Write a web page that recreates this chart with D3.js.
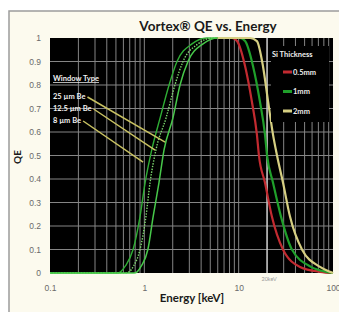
<!DOCTYPE html>
<html>
<head>
<meta charset="utf-8">
<script src="https://cdn.jsdelivr.net/npm/d3@7"></script>
<style>
  body { margin: 0; background: #ffffff; }
  svg { display: block; font-family: Lato, "Open Sans", sans-serif; }
</style>
</head>
<body>
<div id="chart"></div>
<script>
// tick values
const energyTicks = [0.1, 1, 10, 100];
const energyTickLabels = ['0.1', '1', '10', '100'];
const qeTicks = [0, 0.1, 0.2, 0.3, 0.4, 0.5, 0.6, 0.7, 0.8, 0.9, 1];
const qeTickLabels = ['0', '0.1', '0.2', '0.3', '0.4', '0.5', '0.6', '0.7', '0.8', '0.9', '1'];

// low energy side: window types [keV, QE]
const windowNames = ['25 µm Be', '12.5 µm Be', '8 µm Be'];
const window25 = [[0.1, 0], [0.78, 0], [0.84, 0.005], [0.93, 0.03], [1.09, 0.1], [1.24, 0.24], [1.43, 0.385], [1.62, 0.525], [2.01, 0.66], [2.39, 0.8], [2.9, 0.9], [4.19, 0.975], [6, 1], [9, 1]];
const window12 = [[0.1, 0], [0.64, 0], [0.69, 0.005], [0.77, 0.03], [0.9, 0.1], [1.04, 0.24], [1.15, 0.385], [1.33, 0.525], [1.7, 0.66], [2.11, 0.8], [2.57, 0.9], [3.71, 0.975], [5.2, 1], [9, 1]];
const window8 = [[0.1, 0], [0.52, 0], [0.56, 0.005], [0.63, 0.03], [0.76, 0.1], [0.9, 0.24], [1.02, 0.385], [1.2, 0.525], [1.47, 0.66], [1.83, 0.8], [2.22, 0.9], [3.2, 0.975], [4.6, 1], [9, 1]];
// where the window labels point on their curves [keV, QE]
const windowAnchors = [[1.66, 0.557], [1.3, 0.523], [0.97, 0.472]];

// high energy side: Si thickness [keV, QE]
const thicknessNames = ['0.5mm', '1mm', '2mm'];
const si05 = [[6, 1], [8.5, 1], [9.6, 0.987], [11.7, 0.88], [13.8, 0.73], [15.6, 0.59], [16.4, 0.5], [19.0, 0.385], [22.5, 0.24], [29.5, 0.1], [44.7, 0.026], [72.8, 0.005], [100, 0]];
const si1 = [[6, 1], [10.3, 1], [11.7, 0.987], [14.2, 0.88], [16.8, 0.73], [19.0, 0.59], [20.0, 0.5], [23.1, 0.385], [28.1, 0.24], [36.7, 0.1], [58.4, 0.026], [85, 0.005], [100, 0]];
const si2 = [[6, 1], [13.2, 1], [15.6, 0.987], [18.1, 0.88], [20.5, 0.73], [23.1, 0.59], [25.5, 0.5], [29.5, 0.385], [35, 0.24], [46.9, 0.1], [72.8, 0.026], [92.9, 0.005], [100, 0]];
const markerEnergy = 20;

const width = 339, height = 312;
const plot = { left: 50, right: 333, top: 38, bottom: 273 };

const svg = d3.select('#chart').append('svg')
    .attr('width', width)
    .attr('height', height);

// outer frame
svg.append('rect')
    .attr('x', 9).attr('y', 11)
    .attr('width', 340).attr('height', 310)
    .attr('fill', '#fcfaee')
    .attr('stroke', '#9c9c9c')
    .attr('stroke-width', 1.5);

const x = d3.scaleLog().domain([0.1, 100]).range([plot.left, plot.right]);
const y = d3.scaleLinear().domain([0, 1]).range([plot.bottom, plot.top]);

svg.append('rect')
    .attr('x', plot.left).attr('y', plot.top)
    .attr('width', plot.right - plot.left)
    .attr('height', plot.bottom - plot.top)
    .attr('fill', '#000000');

// grid
const minorTicks = x.ticks().filter(d => d > 0.1 && d < 100);
const grid = svg.append('g');
grid.selectAll('line.v').data(minorTicks).enter().append('line')
    .attr('class', 'v')
    .attr('x1', d => x(d)).attr('x2', d => x(d))
    .attr('y1', plot.top).attr('y2', plot.bottom)
    .attr('stroke', '#858585')
    .attr('stroke-width', 1);
grid.selectAll('line.h').data(qeTicks.filter(d => d > 0 && d < 1)).enter().append('line')
    .attr('class', 'h')
    .attr('x1', plot.left).attr('x2', plot.right)
    .attr('y1', d => y(d)).attr('y2', d => y(d))
    .attr('stroke', '#858585')
    .attr('stroke-width', 1);
grid.append('line')
    .attr('x1', x(markerEnergy)).attr('x2', x(markerEnergy))
    .attr('y1', plot.top).attr('y2', plot.bottom)
    .attr('stroke', '#dcdcdc')
    .attr('stroke-width', 1.2);

// axes labels
const xAxis = d3.axisBottom(x).tickValues(energyTicks)
    .tickFormat((d, i) => energyTickLabels[i]).tickSize(0).tickPadding(12);
const xg = svg.append('g').attr('transform', `translate(0,${plot.bottom})`).call(xAxis);
const yAxis = d3.axisLeft(y).tickValues(qeTicks)
    .tickFormat((d, i) => qeTickLabels[i]).tickSize(0).tickPadding(9);
const yg = svg.append('g').attr('transform', `translate(${plot.left},0)`).call(yAxis);
[xg, yg].forEach(g => {
    g.select('.domain').remove();
    g.selectAll('text').attr('fill', '#6a6a6a').style('font-size', '8.5px');
});

svg.append('text')
    .attr('x', x(markerEnergy) + 2).attr('y', plot.bottom + 8)
    .attr('text-anchor', 'middle')
    .attr('fill', '#9a9a9a')
    .style('font-size', '5.5px')
    .text('20keV');

const line = d3.line()
    .x(d => x(d[0]))
    .y(d => y(d[1]))
    .curve(d3.curveMonotoneX);

// rising curves
const windows = [
    { data: window8, color: '#2fae35', dash: null, w: 1.4 },
    { data: window12, color: '#7fdc70', dash: '1.4,1.4', w: 1.4 },
    { data: window25, color: '#47c84a', dash: null, w: 1.5 }
];
windows.forEach(s => {
    svg.append('path')
        .datum(s.data)
        .attr('d', line)
        .attr('fill', 'none')
        .attr('stroke', s.color)
        .attr('stroke-width', s.w)
        .attr('stroke-dasharray', s.dash);
});

// falling curves
const thickness = [
    { data: si05, color: '#c22a30' },
    { data: si1, color: '#1f9f2a' },
    { data: si2, color: '#d6cf82' }
];
thickness.forEach(s => {
    svg.append('path')
        .datum(s.data)
        .attr('d', line)
        .attr('fill', 'none')
        .attr('stroke', s.color)
        .attr('stroke-width', 2.2);
});

// Si thickness legend
const leg = svg.append('g');
leg.append('rect')
    .attr('x', 271).attr('y', 46)
    .attr('width', 58).attr('height', 76)
    .attr('fill', '#000000');
leg.append('text')
    .attr('x', 272).attr('y', 57)
    .attr('fill', '#eeeeee')
    .style('font-size', '7.5px')
    .style('font-weight', 'bold')
    .text('Si Thickness');
thickness.forEach((s, i) => {
    const ly = 72 + i * 19.5;
    leg.append('line')
        .attr('x1', 283).attr('x2', 292)
        .attr('y1', ly).attr('y2', ly)
        .attr('stroke', s.color)
        .attr('stroke-width', 3);
    leg.append('text')
        .attr('x', 293).attr('y', ly + 2.5)
        .attr('fill', '#eeeeee')
        .style('font-size', '7.5px')
        .style('font-weight', 'bold')
        .text(thicknessNames[i]);
});

// window type legend
svg.append('text')
    .attr('x', 53).attr('y', 81)
    .attr('fill', '#f0f0f0')
    .style('font-size', '7.5px')
    .style('font-weight', 'bold')
    .style('text-decoration', 'underline')
    .text('Window Type');
windowNames.forEach((name, i) => {
    const ty = 99 + i * 12;
    const t = svg.append('text')
        .attr('x', 53).attr('y', ty)
        .attr('fill', '#f0f0f0')
        .style('font-size', '7.5px')
        .style('font-weight', 'bold')
        .text(name);
    const tw = t.node().getComputedTextLength();
    svg.append('line')
        .attr('x1', 53 + tw + 2).attr('y1', ty - 2)
        .attr('x2', x(windowAnchors[i][0])).attr('y2', y(windowAnchors[i][1]))
        .attr('stroke', '#c9c262')
        .attr('stroke-width', 1.5);
});

// titles
svg.append('text')
    .attr('x', 208).attr('y', 31)
    .attr('text-anchor', 'middle')
    .attr('fill', '#1a1a1a')
    .style('font-size', '13.5px')
    .style('font-weight', 'bold')
    .text('Vortex® QE vs. Energy');
svg.append('text')
    .attr('x', 192).attr('y', 302)
    .attr('text-anchor', 'middle')
    .attr('fill', '#1a1a1a')
    .style('font-size', '11.5px')
    .style('font-weight', 'bold')
    .text('Energy  [keV]');
svg.append('text')
    .attr('transform', 'translate(21,157) rotate(-90)')
    .attr('text-anchor', 'middle')
    .attr('fill', '#1a1a1a')
    .style('font-size', '10px')
    .style('font-weight', 'bold')
    .text('QE');
</script>
</body>
</html>
